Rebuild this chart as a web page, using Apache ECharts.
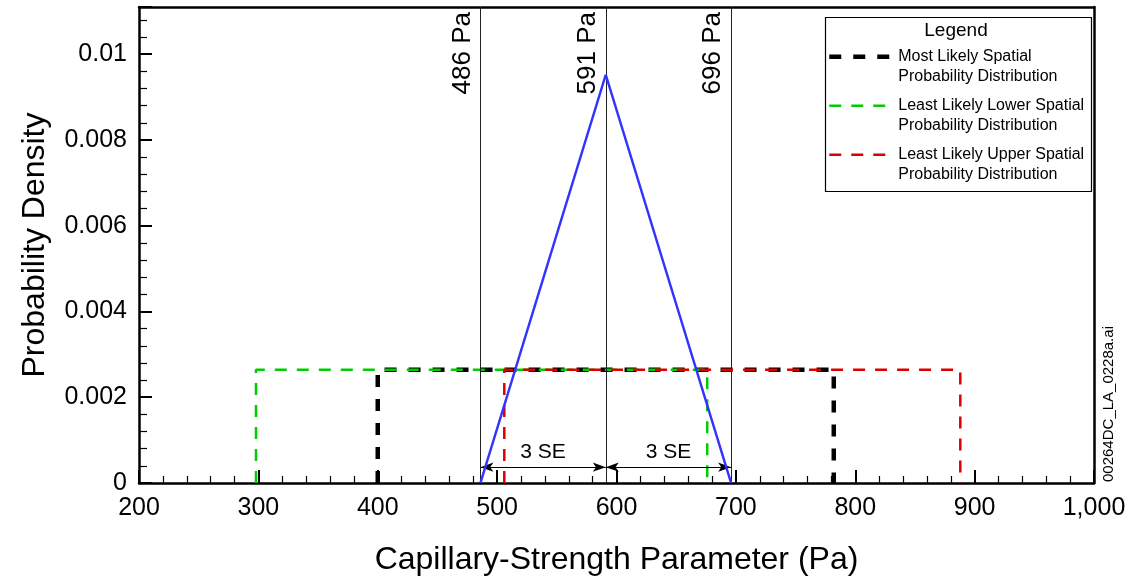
<!DOCTYPE html>
<html>
<head>
<meta charset="utf-8">
<script src="https://cdn.jsdelivr.net/npm/echarts@6/dist/echarts.min.js"></script>
<style>
html,body{margin:0;padding:0;background:#fff;}
#chart{width:1138px;height:581px;}
</style>
</head>
<body>
<div id="chart"></div>
<script>
// ---- data ----
const seriesNames = [
  'Most Likely Spatial\nProbability Distribution',
  'Least Likely Lower Spatial\nProbability Distribution',
  'Least Likely Upper Spatial\nProbability Distribution'
];
const mostLikely = [[400, 0], [400, 0.00264], [782, 0.00264], [782, 0]];
const lowerLeastLikely = [[298, 0], [298, 0.00264], [676, 0.00264], [676, 0]];
const upperLeastLikely = [[506, 0], [506, 0.00264], [888, 0.00264], [888, 0]];
const triangle = [[486, 0], [591, 0.00952], [696, 0]];
const refValues = [486, 591, 696];
const refLabels = ['486 Pa', '591 Pa', '696 Pa'];
const seLabel = '3 SE';
const seArrowY = 0.00037;
const xRange = [200, 1000];
const yRange = [0, 0.0111];
const xTitle = 'Capillary-Strength Parameter (Pa)';
const yTitle = 'Probability Density';
const legendTitle = 'Legend';
const fileTag = '00264DC_LA_0228a.ai';

const FONT = 'Liberation Sans, Arial, Helvetica, sans-serif';
const chart = echarts.init(document.getElementById('chart'));

const seMarks = [];
for (let i = 0; i < refValues.length - 1; i++) {
  seMarks.push([
    { coord: [refValues[i], seArrowY], label: { formatter: seLabel } },
    { coord: [refValues[i + 1], seArrowY] }
  ]);
}

const frameAxis = {
  axisLine: { show: true, onZero: false, lineStyle: { color: '#000', width: 2.5 } },
  axisTick: { show: false }, axisLabel: { show: false }, splitLine: { show: false }
};

const option = {
  backgroundColor: '#ffffff',
  animation: false,
  textStyle: { fontFamily: FONT },
  grid: { left: 139, right: 44, top: 7, bottom: 93 },
  xAxis: [{
    type: 'value', min: xRange[0], max: xRange[1], interval: 100,
    name: xTitle, nameLocation: 'middle', nameGap: 61,
    nameTextStyle: { fontSize: 32, color: '#000', fontFamily: FONT },
    axisLine: { onZero: false, lineStyle: { color: '#000', width: 2.5 } },
    axisTick: { inside: true, length: 13, lineStyle: { color: '#000', width: 2 } },
    minorTick: { show: true, splitNumber: 5, length: 7, lineStyle: { color: '#000', width: 1.2 } },
    axisLabel: { fontSize: 25, color: '#000', margin: 13, fontFamily: FONT,
      formatter: v => Number(v).toLocaleString('en-US') },
    splitLine: { show: false }
  }, Object.assign({ type: 'value', min: xRange[0], max: xRange[1], position: 'top' }, frameAxis)],
  yAxis: [{
    type: 'value', min: yRange[0], max: yRange[1], interval: 0.002,
    name: yTitle, nameLocation: 'middle', nameGap: 88,
    nameTextStyle: { fontSize: 32, color: '#000', fontFamily: FONT },
    axisLine: { show: true, onZero: false, lineStyle: { color: '#000', width: 2.5 } },
    axisTick: { show: true, inside: true, length: 13, lineStyle: { color: '#000', width: 2 } },
    minorTick: { show: true, splitNumber: 5, length: 8, lineStyle: { color: '#000', width: 1.2 } },
    axisLabel: { fontSize: 25, color: '#000', margin: 12, showMaxLabel: false, fontFamily: FONT,
      formatter: v => v === 0 ? '0' : String(parseFloat(v.toFixed(4))) },
    splitLine: { show: false }
  }, Object.assign({ type: 'value', min: yRange[0], max: yRange[1], position: 'right' }, frameAxis)],
  legend: {
    data: seriesNames,
    orient: 'vertical',
    left: 827, top: 27.5,
    padding: 0,
    itemGap: -9.5,
    itemWidth: 64, itemHeight: 14,
    selectedMode: false,
    itemStyle: { opacity: 0, borderWidth: 0 },
    lineStyle: { width: 'inherit' },
    formatter: name => '\n' + name,
    textStyle: { fontSize: 16, color: '#000', lineHeight: 19.5, fontFamily: FONT }
  },
  graphic: [
    { type: 'rect', left: 823, top: 15, shape: { width: 266, height: 174 },
      style: { fill: 'none', stroke: '#000', lineWidth: 1.2 }, z: 1 },
    { type: 'text', x: 956, y: 31,
      style: { text: legendTitle, font: '19px ' + FONT, fill: '#000', align: 'center', verticalAlign: 'middle' }, z: 2 },
    { type: 'text', rotation: Math.PI / 2, x: 1101, y: 482,
      style: { text: fileTag, font: '15px ' + FONT, fill: '#000' }, z: 2 }
  ],
  series: [
    { name: seriesNames[0], type: 'line', data: mostLikely, symbol: 'none', z: 3,
      lineStyle: { color: '#000', width: 4.5, type: [12, 12] }, itemStyle: { color: '#000' } },
    { name: seriesNames[1], type: 'line', data: lowerLeastLikely, symbol: 'none', z: 4,
      lineStyle: { color: '#00cc00', width: 2.5, type: [12, 10] }, itemStyle: { color: '#00cc00' } },
    { name: seriesNames[2], type: 'line', data: upperLeastLikely, symbol: 'none', z: 5,
      lineStyle: { color: '#dd0000', width: 2.5, type: [12, 10] }, itemStyle: { color: '#dd0000' } },
    { name: 'triangle', type: 'line', data: triangle, symbol: 'none', z: 6,
      lineStyle: { color: '#3333ff', width: 2.5 },
      markLine: {
        silent: true, symbol: 'none', animation: false,
        lineStyle: { color: '#222', width: 1, type: 'solid' },
        label: { show: true, position: 'insideEndTop', fontSize: 26, color: '#000', distance: 5, fontFamily: FONT,
          formatter: p => p.name },
        data: refValues.map((v, i) => ({ xAxis: v, name: refLabels[i] }))
      }
    },
    { name: 'se', type: 'line', data: [], symbol: 'none', z: 7,
      markLine: {
        silent: true, symbol: ['arrow', 'arrow'], symbolSize: [7, 13], animation: false,
        lineStyle: { color: '#000', width: 1, type: 'solid' },
        itemStyle: { color: '#000' },
        label: { show: true, position: 'middle', fontSize: 21, color: '#000', distance: 4, fontFamily: FONT },
        data: seMarks
      }
    }
  ]
};
chart.setOption(option);
</script>
</body>
</html>
